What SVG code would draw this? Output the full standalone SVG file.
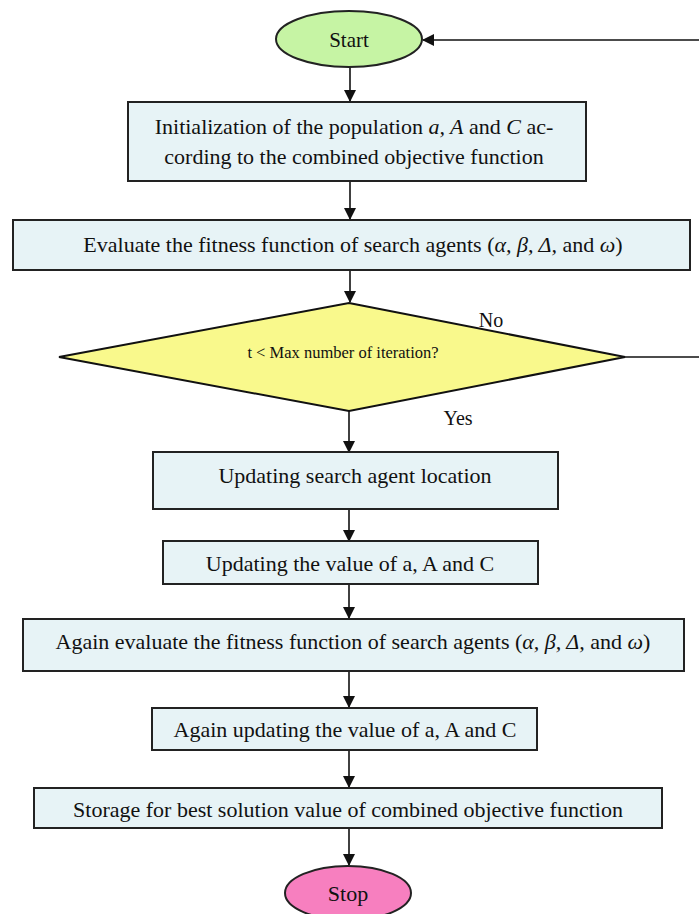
<svg xmlns="http://www.w3.org/2000/svg" width="699" height="914" viewBox="0 0 699 914">
<style>
text{font-family:"Liberation Serif","Times New Roman",serif;fill:#111;}
.t{font-size:22px;text-anchor:middle;}
.box{fill:#e7f3f6;stroke:#222;stroke-width:2;}
.ln{stroke:#111;stroke-width:1.6;fill:none;}
.lbl{font-size:20px;text-anchor:middle;}
</style>
<defs>
<marker id="ah" markerWidth="12" markerHeight="12" refX="11" refY="6" orient="auto" markerUnits="userSpaceOnUse">
<path d="M0,0 L12,6 L0,12 Z" fill="#111"/>
</marker>
</defs>
<rect width="699" height="914" fill="#fff"/>
<g id="connectors">
<line class="ln" x1="350" y1="66" x2="350" y2="101" marker-end="url(#ah)"/>
<line class="ln" x1="350" y1="181" x2="350" y2="219" marker-end="url(#ah)"/>
<line class="ln" x1="350" y1="270" x2="350" y2="302" marker-end="url(#ah)"/>
<line class="ln" x1="349" y1="411" x2="349" y2="452" marker-end="url(#ah)"/>
<line class="ln" x1="349" y1="509" x2="349" y2="541" marker-end="url(#ah)"/>
<line class="ln" x1="349" y1="584" x2="349" y2="618" marker-end="url(#ah)"/>
<line class="ln" x1="349" y1="671" x2="349" y2="707" marker-end="url(#ah)"/>
<line class="ln" x1="349" y1="750" x2="349" y2="787" marker-end="url(#ah)"/>
<line class="ln" x1="349" y1="828" x2="349" y2="865" marker-end="url(#ah)"/>
<line class="ln" x1="625" y1="357" x2="699" y2="357"/>
<line class="ln" x1="699" y1="40" x2="423" y2="40" marker-end="url(#ah)"/>
<text class="lbl" x="491" y="327">No</text>
<text class="lbl" x="458" y="425">Yes</text>
</g>
<g id="start">
<ellipse cx="349" cy="39" rx="73" ry="28" fill="#c6f4a4" stroke="#222" stroke-width="2"/>
<text class="t" x="349" y="47" style="font-size:21px">Start</text>
</g>
<g id="init">
<rect class="box" x="128" y="102" width="458" height="79"/>
<text class="t" x="354" y="134">Initialization of the population <tspan font-style="italic">a, A</tspan> and <tspan font-style="italic">C</tspan> ac-</text>
<text class="t" x="354" y="164">cording to the combined objective function</text>
</g>
<g id="evaluate">
<rect class="box" x="13" y="220" width="677" height="50"/>
<text class="t" x="353" y="252">Evaluate the fitness function of search agents (<tspan font-style="italic">α, β, Δ,</tspan> and <tspan font-style="italic">ω</tspan>)</text>
</g>
<g id="decision">
<polygon points="349,303 625,357 349,411 59,357" fill="#f9f98c" stroke="#111" stroke-width="2"/>
<text x="343" y="358" style="font-size:16.5px;text-anchor:middle">t &lt; Max number of iteration?</text>
</g>
<g id="update-location">
<rect class="box" x="153" y="452" width="405" height="57"/>
<text class="t" x="355" y="483">Updating search agent location</text>
</g>
<g id="update-value">
<rect class="box" x="163" y="541" width="375" height="43"/>
<text class="t" x="350" y="571">Updating the value of a, A and C</text>
</g>
<g id="again-evaluate">
<rect class="box" x="23" y="619" width="661" height="52"/>
<text class="t" x="353" y="649">Again evaluate the fitness function of search agents (<tspan font-style="italic">α, β, Δ,</tspan> and <tspan font-style="italic">ω</tspan>)</text>
</g>
<g id="again-update">
<rect class="box" x="152" y="708" width="385" height="42"/>
<text class="t" x="345" y="737">Again updating the value of a, A and C</text>
</g>
<g id="storage">
<rect class="box" x="34" y="788" width="628" height="40"/>
<text class="t" x="348" y="817">Storage for best solution value of combined objective function</text>
</g>
<g id="stop">
<ellipse cx="348" cy="893" rx="63" ry="27" fill="#f77fbf" stroke="#222" stroke-width="2"/>
<text class="t" x="348" y="901">Stop</text>
</g>
</svg>
